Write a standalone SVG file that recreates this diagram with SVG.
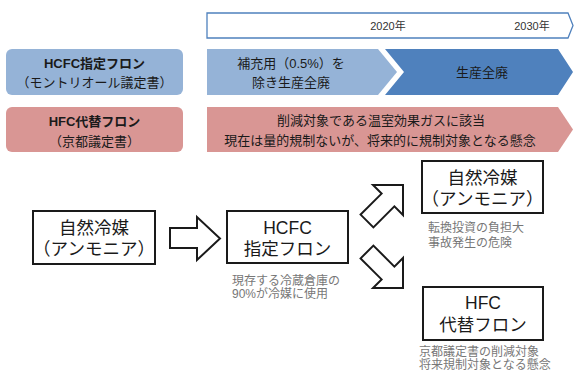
<svg xmlns="http://www.w3.org/2000/svg" width="574" height="372" viewBox="0 0 574 372">
<style>
  text { font-family: "Liberation Sans", "Noto Sans CJK JP", sans-serif; fill: #1a1a1a; text-anchor: middle; }
  .hd { font-size: 13px; }
  .b { font-weight: bold; }
  .yr { font-size: 11px; fill: #333; }
  .big { font-size: 17.5px; }
  .cap { font-size: 12px; fill: #777; text-anchor: start; }
  .box { fill: #fff; stroke: #1a1a1a; stroke-width: 2; }
  .arr { fill: #fff; stroke: #1a1a1a; stroke-width: 2; stroke-linejoin: miter; }
  .lb { fill: #95B3D7; }
  .db { fill: #4F81BD; }
  .pk { fill: #D99694; }
</style>
<rect width="574" height="372" fill="#fff"/>

<g id="timeline">
  <polygon points="207,13 568,13 573,25.5 568,38 207,38" fill="#fff" stroke="#4F81BD" stroke-width="1.3"/>
  <text class="yr" x="388" y="30">2020年</text>
  <text class="yr" x="532" y="30">2030年</text>
</g>

<g id="hcfc-label">
  <rect class="lb" x="6" y="49" width="177" height="46" rx="6"/>
  <text class="hd b" x="94.5" y="67.5">HCFC指定フロン</text>
  <text class="hd" x="94.5" y="87">（モントリオール議定書）</text>
</g>

<g id="hcfc-phase1">
  <polygon class="lb" points="207,49 378,49 397,72 378,95 207,95"/>
  <text class="hd" x="291" y="67.5">補充用（0.5%）を</text>
  <text class="hd" x="291" y="87">除き生産全廃</text>
</g>

<g id="hcfc-phase2">
  <polygon class="db" points="385,49 558,49 573,72 558,95 385,95 404,72"/>
  <text class="hd" x="482" y="76.5">生産全廃</text>
</g>

<g id="hfc-label">
  <rect class="pk" x="6" y="107" width="177" height="45" rx="6"/>
  <text class="hd b" x="94.5" y="126">HFC代替フロン</text>
  <text class="hd" x="94.5" y="146">（京都議定書）</text>
</g>

<g id="hfc-status">
  <polygon class="pk" points="207,107 558,107 573,129.5 558,152 207,152"/>
  <text class="hd" x="381" y="124.5">削減対象である温室効果ガスに該当</text>
  <text class="hd" x="380" y="144.5">現在は量的規制ないが、将来的に規制対象となる懸念</text>
</g>

<g id="natural-1">
  <rect class="box" x="33" y="211" width="122" height="53"/>
  <text class="big" x="94" y="233.5">自然冷媒</text>
  <text class="big" x="94" y="254.5">（アンモニア）</text>
</g>

<g id="hcfc-node">
  <rect class="box" x="227" y="211" width="121" height="52"/>
  <text class="big" x="287.5" y="233.5">HCFC</text>
  <text class="big" x="287.5" y="254.5">指定フロン</text>
  <text class="cap" x="232" y="284.5">現存する冷蔵倉庫の</text>
  <text class="cap" x="232" y="297.5">90%が冷媒に使用</text>
</g>

<g id="natural-2">
  <rect class="box" x="422" y="161" width="121" height="52"/>
  <text class="big" x="482.5" y="183.5">自然冷媒</text>
  <text class="big" x="482.5" y="204.5">（アンモニア）</text>
  <text class="cap" x="428" y="231.5">転換投資の負担大</text>
  <text class="cap" x="428" y="246.5">事故発生の危険</text>
</g>

<g id="hfc-node">
  <rect class="box" x="423" y="287" width="120" height="53"/>
  <text class="big" x="483" y="309">HFC</text>
  <text class="big" x="483" y="331">代替フロン</text>
  <text class="cap" x="419" y="356">京都議定書の削減対象</text>
  <text class="cap" x="419" y="369">将来規制対象となる懸念</text>
</g>

<g id="connectors">
  <polygon class="arr" points="170,228 197,228 197,217 220,238.5 197,260 197,248 170,248"/>
  <polygon class="arr" points="403,185 403,215 394.4,206.4 373.4,227.4 360.6,214.6 381.6,193.6 373,185"/>
  <polygon class="arr" points="403,288 403,258 394.4,266.6 373.4,245.6 360.6,258.4 381.6,279.4 373,288"/>
</g>
</svg>
